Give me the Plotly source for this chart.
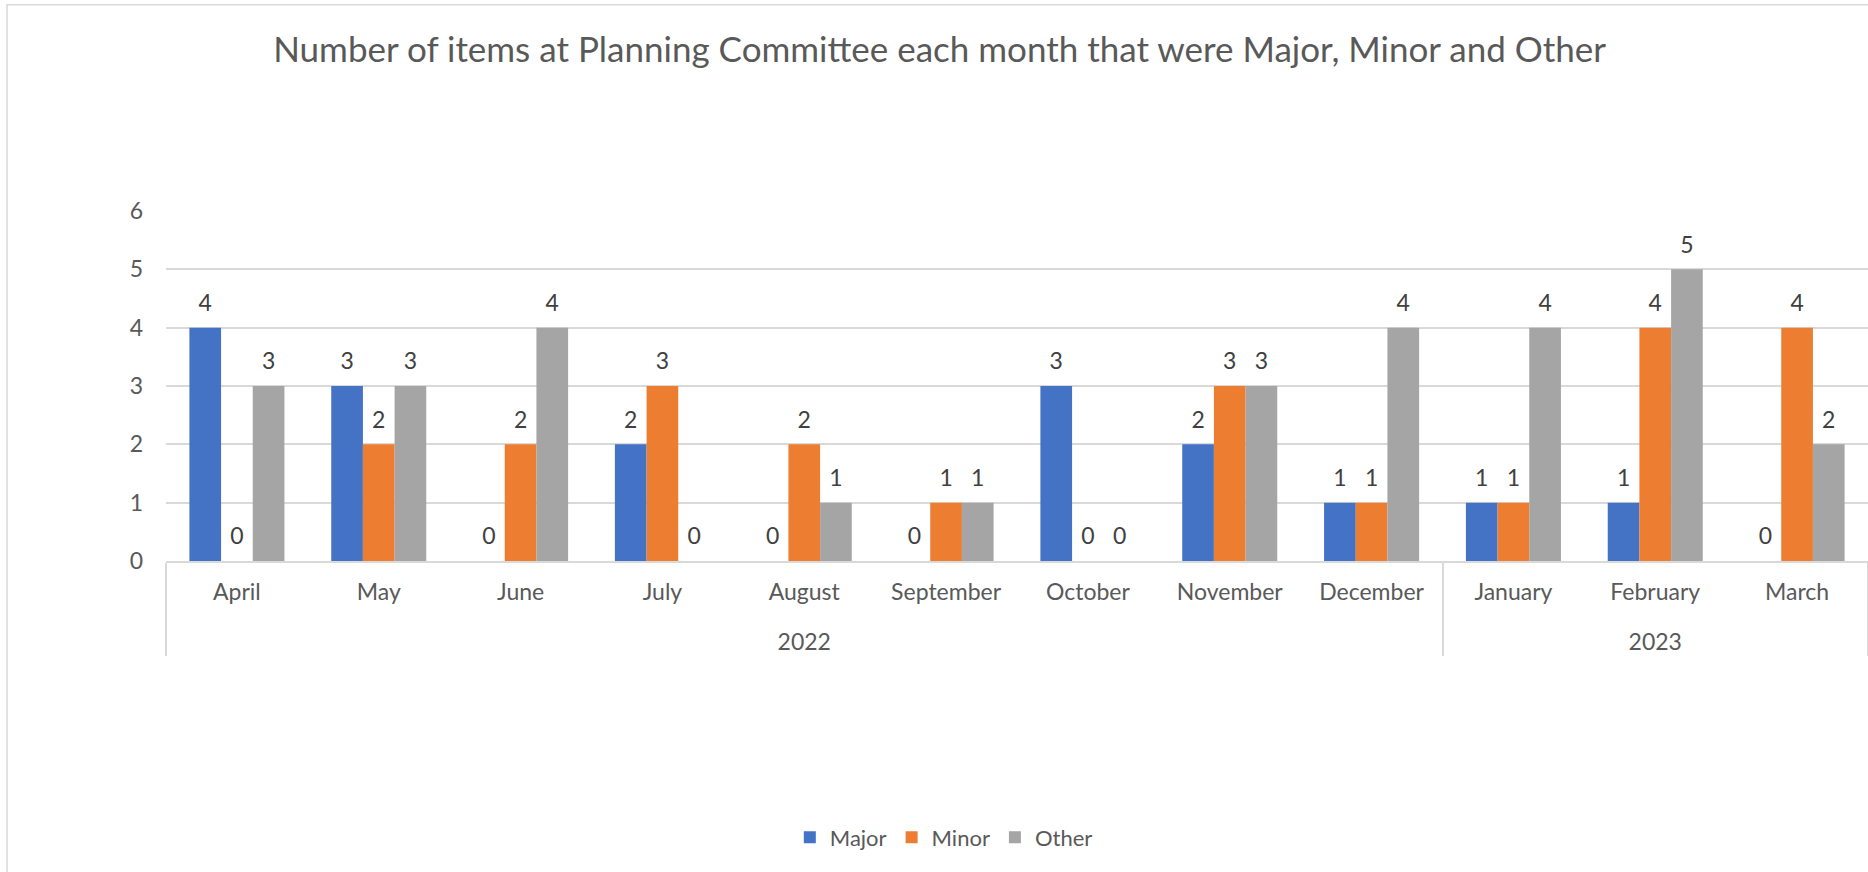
import plotly.graph_objects as go

# data
years = ["2022"] * 9 + ["2023"] * 3
months = ["April", "May", "June", "July", "August", "September",
          "October", "November", "December", "January", "February", "March"]
major = [4, 3, 0, 2, 0, 0, 3, 2, 1, 1, 1, 0]
minor = [0, 2, 2, 3, 2, 1, 0, 3, 1, 1, 4, 4]
other = [3, 3, 4, 0, 1, 1, 0, 3, 4, 4, 5, 2]

colors = {"Major": "#4472C4", "Minor": "#ED7D31", "Other": "#A5A5A5"}
txt = "#595959"
grid = "#D9D9D9"
font = "Lato, 'Open Sans', sans-serif"
fs = 23

# push the year row a little further below the month row
year_lbl = ["<br>" + y for y in years]

fig = go.Figure()
for name, vals in [("Major", major), ("Minor", minor), ("Other", other)]:
    fig.add_trace(go.Bar(
        x=[year_lbl, months],
        y=vals,
        name=name,
        marker=dict(color=colors[name], line=dict(width=0)),
        # small blank second line lifts the label a bit off the bar
        texttemplate=f"<span style='font-size:{fs}px'>%{{y}}</span><br> ",
        textposition="outside",
        textfont=dict(size=9, color="#404040", family=font),
        constraintext="none",
        cliponaxis=False,
    ))

fig.update_layout(
    width=1868, height=872,
    barmode="group", bargap=0.33, bargroupgap=0,
    plot_bgcolor="white", paper_bgcolor="white",
    margin=dict(l=166, r=0, t=211, b=311),
    font=dict(family=font, color=txt, size=fs),
    title=dict(
        text="Number of items at Planning Committee each month that were Major, Minor and Other",
        x=0.503, xref="container", xanchor="center",
        y=0.943, yref="container", yanchor="middle",
        font=dict(size=35, color=txt, family=font),
    ),
    legend=dict(
        orientation="h", x=0.457, xanchor="center", y=-0.79, yanchor="middle",
        font=dict(size=22, color=txt), traceorder="normal",
    ),
    xaxis=dict(
        type="multicategory",
        showline=True, linecolor=grid, linewidth=1.5,
        showdividers=True, dividercolor=grid, dividerwidth=1.5,
        tickfont=dict(size=fs, color=txt),
        ticklabelstandoff=10,
        showgrid=False, ticks="",
    ),
    yaxis=dict(
        range=[0, 6], dtick=1,
        showgrid=True, gridcolor=grid, gridwidth=1.5,
        zeroline=False, showline=False,
        tickfont=dict(size=fs, color=txt),
        ticklabelstandoff=22,
    ),
    shapes=[dict(
        type="rect", xref="paper", yref="paper",
        x0=-0.0934, x1=1.2, y0=-1.2, y1=1.589,
        line=dict(color=grid, width=1.5), layer="below",
    )],
)

# drop the default page margin so the figure sits at the window's corner
fig.write_html("out.html", config={"displayModeBar": False},
               post_script="document.body.style.margin='0';")
